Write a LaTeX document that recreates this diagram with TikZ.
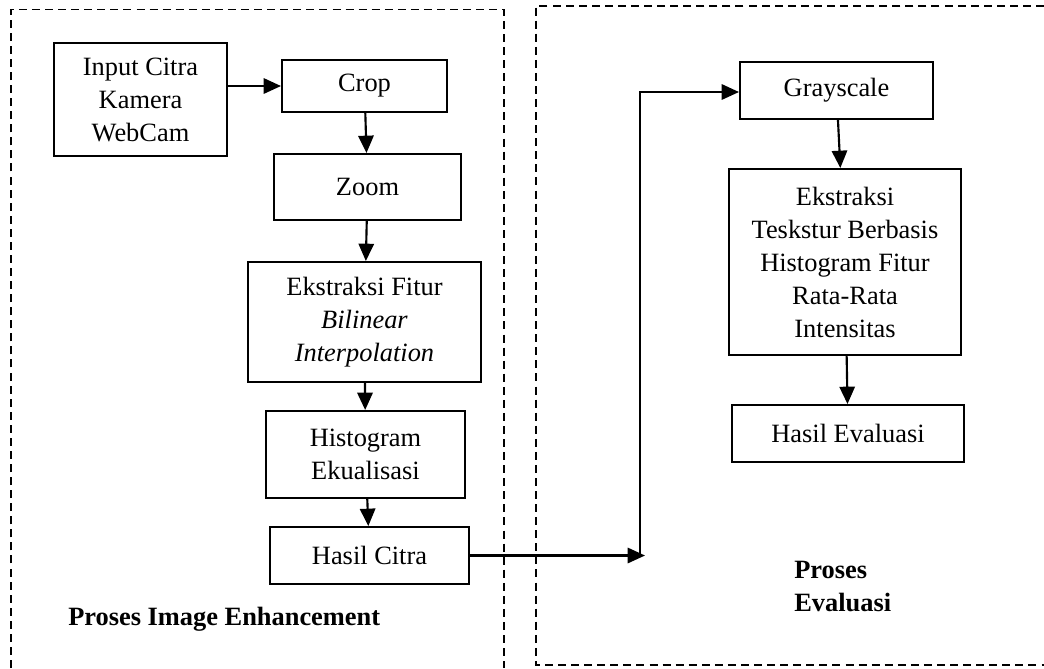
\documentclass[tikz,border=0pt]{standalone}
\usepackage{fontspec}
\setmainfont{Liberation Serif}
\usepackage{tikz}
\usetikzlibrary{arrows.meta}
\tikzset{
  box/.style={draw, line width=1.5pt, align=center, inner sep=2pt,
    font=\fontsize{19.8}{24.75}\selectfont},
  flow/.style={line width=1.6pt, -{Triangle[length=13pt,width=11.5pt]}},
  region/.style={line width=1.2pt, dash pattern=on 6pt off 3.8pt}
}
\newcommand{\connect}[2]{
  \draw [flow] (#1) to (#2)
}

\begin{document}
\begin{tikzpicture}[x=0.75pt,y=-0.75pt]
\useasboundingbox (0,0) rectangle (1044,668);

% dashed regions
\draw [region] (11,668) -- (11,9.5) -- (504,9.5) -- (504,668);
\draw [region] (1044,6) -- (536,6) -- (536,665) -- (1044,665);

% left column
\node [box, minimum width=129.75pt, minimum height=84.75pt] (in) at (140.5, 99.5) {Input Citra\\Kamera\\WebCam};
\node [box, minimum width=123.75pt, minimum height=39pt] (crop) at (364.5, 86) {Crop};
\node [box, minimum width=140.25pt, minimum height=49.5pt] (zoom) at (367.5,187) {Zoom};
\node [box, minimum width=174.75pt, minimum height=90pt] (fitur) at (364.5,322) {Ekstraksi Fitur\\\textit{Bilinear}\\\textit{Interpolation}};
\node [box, minimum width=149.25pt, minimum height=65.25pt] (histo) at (365.5,454.5) {Histogram\\Ekualisasi};
\node [box, minimum width=149.25pt, minimum height=42.75pt] (hasil) at (369.5,555.5) {Hasil Citra};

% right column
\node [box, minimum width=144.75pt, minimum height=42.75pt] (gray) at (836.5, 90.5) {Grayscale};
\node [box, minimum width=174pt, minimum height=139.5pt] (tekstur) at (845,262) {Ekstraksi\\Teskstur Berbasis\\Histogram Fitur\\Rata-Rata\\Intensitas};
\node [box, minimum width=174pt, minimum height=42.75pt] (eval) at (848,433.5) {Hasil Evaluasi};

% region titles
\node [anchor=west, inner sep=0pt, font=\fontsize{19.8}{24.75}\selectfont\bfseries] (judul1) at (68,619) {Proses Image Enhancement};
\node [anchor=west, align=left, inner sep=0pt, font=\fontsize{19.8}{24.75}\selectfont\bfseries] (judul2) at (794,587) {Proses\\Evaluasi};

% turning points between the regions
\coordinate (t1) at (645,555.5);
\coordinate (t2) at (640,92);

% connect left column
\connect {in.east |- crop.west} {crop.west};
\connect {crop} {zoom};
\connect {zoom} {fitur};
\connect {fitur} {histo};
\connect {histo} {hasil};

% hasil citra to grayscale
\draw [flow] (hasil.east) -- (t1);
\draw [flow] (t1 -| t2) -- (t2) -- (t2 -| gray.west);

% connect right column
\connect {gray} {tekstur};
\connect {tekstur} {eval};

\end{tikzpicture}
\end{document}
